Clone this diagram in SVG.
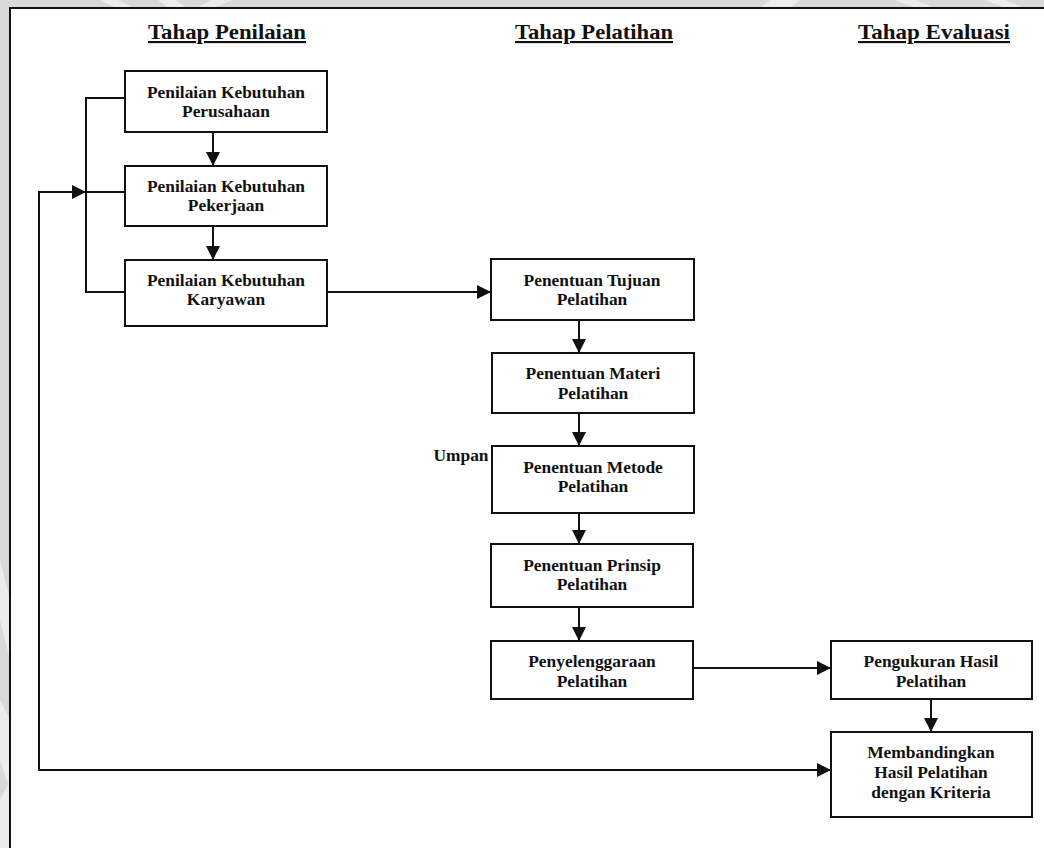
<svg xmlns="http://www.w3.org/2000/svg" width="1044" height="848" viewBox="0 0 1044 848">
<defs>
<style>
.box{fill:#fff;stroke:#111;stroke-width:2}
.ln{fill:none;stroke:#111;stroke-width:2}
.t{font-family:"Liberation Serif","Times New Roman",serif;font-weight:bold;font-size:17.4px;fill:#111;text-anchor:middle}
.h{font-family:"Liberation Serif","Times New Roman",serif;font-weight:bold;font-size:21.5px;fill:#111;text-anchor:middle;text-decoration:underline}
.wm{fill:#ececec}
</style>
<marker id="ah" viewBox="0 0 14 14" refX="14" refY="7" markerWidth="14" markerHeight="14" markerUnits="userSpaceOnUse" orient="auto">
<polygon points="0,0 14,7 0,14" fill="#111"/>
</marker>
</defs>
<rect x="0" y="0" width="1044" height="848" fill="#d9d9d9"/>
<g id="watermark">
<polygon class="wm" points="100,0 118,0 134,8 116,8"/>
<polygon class="wm" points="158,0 176,0 186,8 168,8"/>
<polygon class="wm" points="212,0 232,0 214,8 196,8"/>
<polygon class="wm" points="770,0 800,0 790,8 760,8"/>
<polygon class="wm" points="895,0 915,0 935,8 915,8"/>
<polygon class="wm" points="985,0 1005,0 1025,8 1005,8"/>
<polygon class="wm" points="0,560 10,600 10,660 0,620"/>
<polygon class="wm" points="0,700 10,720 10,790 0,760"/>
<polygon class="wm" points="0,800 10,780 10,848 0,848"/>
</g>
<rect x="10" y="8" width="1040" height="850" fill="#fff" stroke="#111" stroke-width="2"/>
<g id="headings">
<text class="h" x="227" y="39" textLength="158" lengthAdjust="spacingAndGlyphs">Tahap Penilaian</text>
<text class="h" x="594" y="39" textLength="158" lengthAdjust="spacingAndGlyphs">Tahap Pelatihan</text>
<text class="h" x="934" y="39" textLength="152" lengthAdjust="spacingAndGlyphs">Tahap Evaluasi</text>
</g>
<g id="connectors">
<polyline class="ln" points="125,98 86,98 86,292 125,292"/>
<line class="ln" x1="125" y1="192" x2="86" y2="192"/>
<polyline class="ln" points="831,770 39,770 39,192 86,192" marker-end="url(#ah)"/>
<line class="ln" x1="213" y1="132" x2="213" y2="166" marker-end="url(#ah)"/>
<line class="ln" x1="213" y1="226" x2="213" y2="260" marker-end="url(#ah)"/>
<line class="ln" x1="327" y1="292" x2="491" y2="292" marker-end="url(#ah)"/>
<line class="ln" x1="579" y1="320" x2="579" y2="353" marker-end="url(#ah)"/>
<line class="ln" x1="579" y1="413" x2="579" y2="446" marker-end="url(#ah)"/>
<line class="ln" x1="579" y1="513" x2="579" y2="544" marker-end="url(#ah)"/>
<line class="ln" x1="579" y1="607" x2="579" y2="641" marker-end="url(#ah)"/>
<line class="ln" x1="694" y1="668" x2="831" y2="668" marker-end="url(#ah)"/>
<line class="ln" x1="931" y1="699" x2="931" y2="732" marker-end="url(#ah)"/>
<line class="ln" x1="100" y1="770" x2="831" y2="770" marker-end="url(#ah)"/>
<text class="t" x="461" y="461" textLength="55" lengthAdjust="spacingAndGlyphs">Umpan</text>
</g>
<g id="n1"><rect class="box" x="125" y="71" width="202" height="61"/><text class="t" x="226" y="98">Penilaian Kebutuhan</text><text class="t" x="226" y="117">Perusahaan</text></g>
<g id="n2"><rect class="box" x="125" y="166" width="202" height="60"/><text class="t" x="226" y="192">Penilaian Kebutuhan</text><text class="t" x="226" y="211">Pekerjaan</text></g>
<g id="n3"><rect class="box" x="125" y="260" width="202" height="66"/><text class="t" x="226" y="286">Penilaian Kebutuhan</text><text class="t" x="226" y="305">Karyawan</text></g>
<g id="n4"><rect class="box" x="491" y="259" width="203" height="61"/><text class="t" x="592" y="286">Penentuan Tujuan</text><text class="t" x="592" y="305">Pelatihan</text></g>
<g id="n5"><rect class="box" x="492" y="353" width="202" height="60"/><text class="t" x="593" y="379">Penentuan Materi</text><text class="t" x="593" y="399">Pelatihan</text></g>
<g id="n6"><rect class="box" x="492" y="446" width="202" height="67"/><text class="t" x="593" y="473">Penentuan Metode</text><text class="t" x="593" y="492">Pelatihan</text></g>
<g id="n7"><rect class="box" x="491" y="544" width="202" height="63"/><text class="t" x="592" y="571">Penentuan Prinsip</text><text class="t" x="592" y="590">Pelatihan</text></g>
<g id="n8"><rect class="box" x="491" y="641" width="202" height="58"/><text class="t" x="592" y="667">Penyelenggaraan</text><text class="t" x="592" y="687">Pelatihan</text></g>
<g id="n9"><rect class="box" x="831" y="641" width="201" height="58"/><text class="t" x="931" y="667">Pengukuran Hasil</text><text class="t" x="931" y="687">Pelatihan</text></g>
<g id="n10"><rect class="box" x="831" y="732" width="201" height="85"/><text class="t" x="931" y="758">Membandingkan</text><text class="t" x="931" y="778">Hasil Pelatihan</text><text class="t" x="931" y="798">dengan Kriteria</text></g>
</svg>
